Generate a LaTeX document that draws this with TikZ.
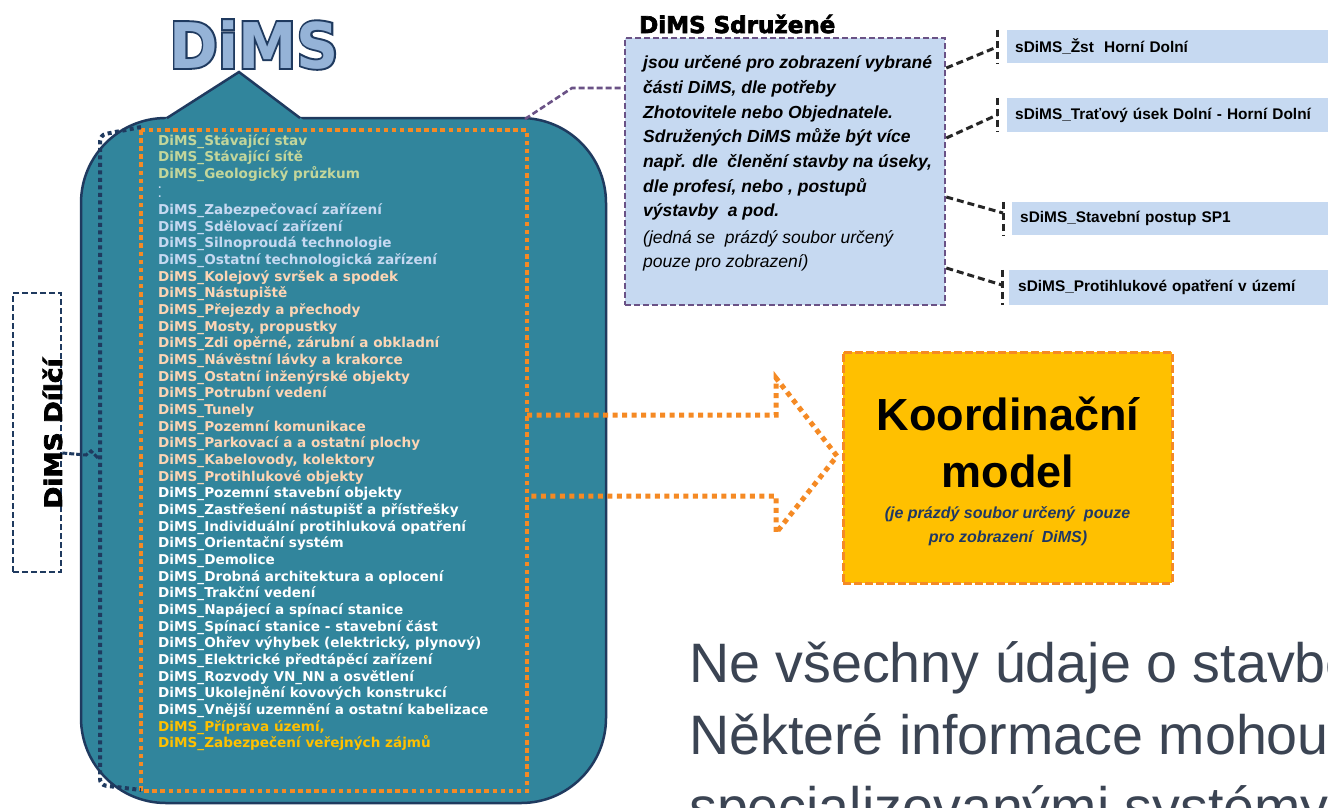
\documentclass[tikz,border=0pt]{standalone}
\usepackage{fontspec}
\setmainfont{Liberation Sans}
\newfontfamily\verd{DejaVu Sans}
\newfontfamily\verdheavy{DejaVu Sans Bold}[FakeBold=3]
\newfontfamily\verdstroke{DejaVu Sans Bold}[FakeBold=6]
\newfontfamily\verdbold{DejaVu Sans Bold}

\definecolor{dimsteal}{HTML}{31859C}
\definecolor{dimsnavy}{HTML}{1F3A5F}
\definecolor{lgreen}{HTML}{C3D69B}
\definecolor{lblue}{HTML}{C6D9F1}
\definecolor{peach}{HTML}{FCD5B5}
\definecolor{gold}{HTML}{FFC000}
\definecolor{dorange}{HTML}{F58A24}
\definecolor{purp}{HTML}{6A5286}
\definecolor{boxblue}{HTML}{C6D9F1}
\definecolor{titleblue}{HTML}{95B3D7}
\definecolor{slate}{HTML}{3B4453}
\definecolor{conn}{HTML}{262626}
\definecolor{subnavy}{HTML}{1F3864}

\tikzset{
  dimsitem/.style={anchor=base west, inner sep=0pt,
    font=\verd\bfseries\fontsize{13.6}{16}\selectfont},
  sdrline/.style={anchor=base west, inner sep=0pt,
    font=\bfseries\itshape\fontsize{17.5}{20}\selectfont},
  sdrnote/.style={anchor=base west, inner sep=0pt,
    font=\itshape\fontsize{17.5}{20}\selectfont},
  sitem/.style={fill=boxblue, anchor=west, inner sep=0pt, text=black,
    font=\bfseries\fontsize{15.4}{18}\selectfont},
  conndash/.style={draw=conn, line width=3pt, dash pattern=on 7pt off 4pt},
  purpdash/.style={draw=purp, line width=2.6pt, dash pattern=on 6pt off 3pt},
  orangedots/.style={draw=dorange, line width=4.5pt, dash pattern=on 4.5pt off 3.6pt},
  navydots/.style={draw=dimsnavy, line width=4pt, dash pattern=on 4pt off 3.5pt},
  bigtext/.style={anchor=base west, inner sep=0pt, text=slate,
    font=\fontsize{55.6}{60}\selectfont},
  titletext/.style={inner sep=0pt, anchor=base, font=\fontsize{63}{70}\selectfont},
}

\newcommand\dimsrow[4]{\node[dimsitem, text=#3] (#1) at (158,#2) {#4};}
\newcommand\sdrrow[4]{\node[#1] (#2) at (643,#3) {#4};}

\begin{document}
\begin{tikzpicture}[x=1pt,y=-1pt]
\useasboundingbox (0,0) rectangle (1328,807);
\clip (0,0) rectangle (1328,807);
\fill[white] (0,0) rectangle (1328,807);

% title: a stroked navy layer under the light blue letters
\node[titletext, text=dimsnavy] (titleedge) at (254,68)
  {\verdstroke\scalebox{0.93}[1]{DiMS}};
\node[titletext, text=titleblue] (title) at (254,68)
  {\verdbold\scalebox{0.93}[1]{DiMS}};

% main rounded body with its pointer
\draw[draw=dimsnavy, line width=2.5pt, fill=dimsteal, rounded corners=85pt]
  (81,118) rectangle (606,803);
\fill[dimsteal] (162.3,121) -- (239,72) -- (304.7,121) -- cycle;
\draw[dimsnavy, line width=2.5pt, line join=miter] (167,118) -- (239,72) -- (300,118);

% group frames
\coordinate (gtl) at (141,130);
\coordinate (gbr) at (527,791);
\draw[orangedots] (gtl) rectangle (gbr);
\draw[navydots, rounded corners=6pt] (141,127) -- (100,135) -- (100,785) -- (141,790);

% list of partial models
\dimsrow{r1}{145}{lgreen}{DiMS\_Stávající  stav}
\dimsrow{r2}{161.7}{lgreen}{DiMS\_Stávající  sítě}
\dimsrow{r3}{178.3}{lgreen}{DiMS\_Geologický  průzkum}
\node[dimsitem, text=lblue, font=\verd\bfseries\fontsize{9}{10}\selectfont] (d1) at (158,188.3) {.};
\node[dimsitem, text=lblue, font=\verd\bfseries\fontsize{9}{10}\selectfont] (d2) at (158,197.3) {.};
\dimsrow{r4}{214.3}{lblue}{DiMS\_Zabezpečovací  zařízení}
\dimsrow{r5}{231.0}{lblue}{DiMS\_Sdělovací  zařízení}
\dimsrow{r6}{247.6}{lblue}{DiMS\_Silnoproudá  technologie}
\dimsrow{r7}{264.3}{lblue}{DiMS\_Ostatní  technologická  zařízení}
\dimsrow{r8}{281.0}{peach}{DiMS\_Kolejový  svršek a spodek}
\dimsrow{r9}{297.7}{peach}{DiMS\_Nástupiště}
\dimsrow{r10}{314.3}{peach}{DiMS\_Přejezdy  a přechody}
\dimsrow{r11}{331.0}{peach}{DiMS\_Mosty,  propustky}
\dimsrow{r12}{347.7}{peach}{DiMS\_Zdi  opěrné, zárubní a obkladní}
\dimsrow{r13}{364.3}{peach}{DiMS\_Návěstní  lávky a krakorce}
\dimsrow{r14}{381.0}{peach}{DiMS\_Ostatní  inženýrské  objekty}
\dimsrow{r15}{397.7}{peach}{DiMS\_Potrubní  vedení}
\dimsrow{r16}{414.3}{peach}{DiMS\_Tunely}
\dimsrow{r17}{431.0}{peach}{DiMS\_Pozemní  komunikace}
\dimsrow{r18}{447.7}{peach}{DiMS\_Parkovací  a a ostatní  plochy}
\dimsrow{r19}{464.3}{peach}{DiMS\_Kabelovody,  kolektory}
\dimsrow{r20}{481.0}{peach}{DiMS\_Protihlukové  objekty}
\dimsrow{r21}{497.7}{white}{DiMS\_Pozemní  stavební  objekty}
\dimsrow{r22}{514.4}{white}{DiMS\_Zastřešení  nástupišť  a přístřešky}
\dimsrow{r23}{531.0}{white}{DiMS\_Individuální  protihluková  opatření}
\dimsrow{r24}{547.7}{white}{DiMS\_Orientační  systém}
\dimsrow{r25}{564.4}{white}{DiMS\_Demolice}
\dimsrow{r26}{581.0}{white}{DiMS\_Drobná  architektura  a oplocení}
\dimsrow{r27}{597.7}{white}{DiMS\_Trakční  vedení}
\dimsrow{r28}{614.4}{white}{DiMS\_Napájecí  a spínací  stanice}
\dimsrow{r29}{631.0}{white}{DiMS\_Spínací  stanice  - stavební  část}
\dimsrow{r30}{647.7}{white}{DiMS\_Ohřev  výhybek  (elektrický,  plynový)}
\dimsrow{r31}{664.4}{white}{DiMS\_Elektrické  předtápěcí  zařízení}
\dimsrow{r32}{681.1}{white}{DiMS\_Rozvody  VN\_NN  a osvětlení}
\dimsrow{r33}{697.7}{white}{DiMS\_Ukolejnění  kovových  konstrukcí}
\dimsrow{r34}{714.4}{white}{DiMS\_Vnější  uzemnění  a ostatní  kabelizace}
\dimsrow{r35}{731.1}{gold}{DiMS\_Příprava  území,}
\dimsrow{r36}{747.7}{gold}{DiMS\_Zabezpečení  veřejných  zájmů}

% partial model label on the left
\node[draw=dimsnavy, line width=2.5pt, dash pattern=on 6pt off 3pt,
  minimum width=48pt, minimum height=279pt, inner sep=0pt] (dil) at (37,432.5) {};
\node[rotate=90, inner sep=0pt, text=black,
  font=\verdheavy\fontsize{24}{26}\selectfont] (diltext) at (52.5,433.5)
  {\scalebox{1.1}[1]{DiMS Dílčí}};
\coordinate (brk) at (99,459);
\draw[draw=dimsnavy, line width=3pt, dash pattern=on 5pt off 2pt]
  (dil.east |- 0,453) -- (86,455) -- (91,451) -- (brk);

% combined models
\node[anchor=base west, inner sep=0pt, font=\verdheavy\fontsize{23}{26}\selectfont]
  (sdrhead) at (639,33) {DiMS Sdružené};
\node[fill=boxblue, purpdash, minimum width=320pt, minimum height=267pt, inner sep=0pt]
  (sdr) at (785,171.5) {};
\sdrrow{sdrline}{t1}{68.5}{jsou určené pro zobrazení vybrané}
\sdrrow{sdrline}{t2}{93.3}{části DiMS, dle potřeby}
\sdrrow{sdrline}{t3}{118}{Zhotovitele nebo Objednatele.}
\sdrrow{sdrline}{t4}{142.7}{Sdružených DiMS může být více}
\sdrrow{sdrline}{t5}{167.4}{např. dle \ členění stavby na úseky,}
\sdrrow{sdrline}{t6}{192}{dle profesí, nebo , postupů}
\sdrrow{sdrline}{t7}{216.8}{výstavby \ a pod.}
\sdrrow{sdrnote}{t8}{243}{(jedná se \ prázdý soubor určený}
\sdrrow{sdrnote}{t9}{267.5}{pouze pro zobrazení)}

\coordinate (cstart) at (525,119);
\draw[purpdash] (cstart) -- (572,88) -- (sdr.west |- 0,88);

% individual combined models
\node[sitem, minimum width=321pt, minimum height=33pt, text width=313pt, inner xsep=8pt] (s1) at (1007,46.5) {sDiMS\_Žst \ Horní Dolní};
\node[sitem, minimum width=321pt, minimum height=34pt, text width=313pt, inner xsep=8pt] (s2) at (1007,115) {sDiMS\_Traťový úsek Dolní - Horní Dolní};
\node[sitem, minimum width=316pt, minimum height=33pt, text width=308pt, inner xsep=8pt] (s3) at (1012,218.5) {sDiMS\_Stavební postup SP1};
\node[sitem, minimum width=319pt, minimum height=35pt, text width=311pt, inner xsep=9pt] (s4) at (1009,287.5) {sDiMS\_Protihlukové opatření v území};

\coordinate (b1) at (997,47);
\coordinate (b2) at (997,115);
\coordinate (b3) at (1003,213);
\coordinate (b4) at (1002,285);
\draw[conndash] (sdr.east |- 0,68) -- (b1);
\draw[conndash] (sdr.east |- 0,138) -- (b2);
\draw[conndash] (sdr.east |- 0,197) -- (b3);
\draw[conndash] (sdr.east |- 0,268) -- (b4);
\draw[conndash] (b1 |- s1.north) -- (b1 |- s1.south);
\draw[conndash] (b2 |- s2.north) -- (b2 |- s2.south);
\draw[conndash] (b3 |- s3.north) -- (b3 |- s3.south);
\draw[conndash] (b4 |- s4.north) -- (b4 |- s4.south);

% coordination model
\node[fill=gold, draw=dorange, line width=3pt, dash pattern=on 8pt off 3pt,
  minimum width=329pt, minimum height=231pt, inner sep=0pt] (koord) at (1007.5,467.5) {};
\node[anchor=base, inner sep=0pt, font=\bfseries\fontsize{45}{50}\selectfont] (k1) at (1008,430) {Koordinační};
\node[anchor=base, inner sep=0pt, font=\bfseries\fontsize{45}{50}\selectfont] (k2) at (1008,487) {model};
\node[anchor=base, inner sep=0pt, text=subnavy, font=\bfseries\itshape\fontsize{16}{18}\selectfont] (k3) at (1007.5,518) {(je prázdý soubor určený \ pouze};
\node[anchor=base, inner sep=0pt, text=subnavy, font=\bfseries\itshape\fontsize{16}{18}\selectfont] (k4) at (1008,542) {pro zobrazení \ DiMS)};

% flow arrow into the coordination model
\coordinate (a1) at (gbr |- 0,415);
\coordinate (a2) at (gbr |- 0,496);
\draw[orangedots, line width=5pt, dash pattern=on 5pt off 4.5pt, line join=miter]
  (a1) -- (776,415) -- (776,378) -- (837,456) -- (776,533) -- (776,496) -- (a2);

% note text
\node[bigtext] (n1) at (689,682) {Ne všechny údaje o stavbě};
\node[bigtext] (n2) at (689,754) {Některé informace mohou};
\node[bigtext] (n3) at (689,826) {specializovanými systémy};
\end{tikzpicture}
\end{document}
